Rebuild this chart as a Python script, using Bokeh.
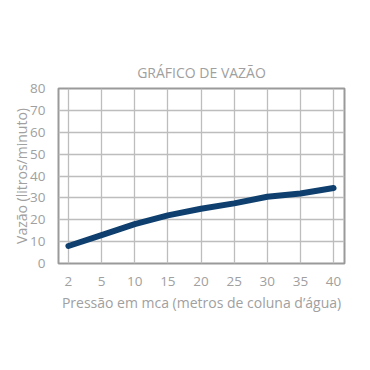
from bokeh.plotting import figure
from bokeh.models import FixedTicker, Range1d
from bokeh.embed import file_html
from bokeh.resources import INLINE

pressure_labels = ["2", "5", "10", "15", "20", "25", "30", "35", "40"]
flow_values = [8, 13, 18, 22, 25, 27.5, 30.5, 32, 34.5]
y_ticks = [0, 10, 20, 30, 40, 50, 60, 70, 80]

xs = list(range(len(pressure_labels)))

TEXT = "#a0a0a0"
FONT = "Open Sans"

p = figure(width=370, height=370, output_backend="svg", toolbar_location=None,
           x_range=Range1d(-0.3, len(pressure_labels) - 1 + 0.33),
           y_range=Range1d(0, 80),
           min_border_left=58, min_border_right=26, min_border_top=88, min_border_bottom=107)

p.title.text = "GRÁFICO DE VAZÃO"
p.title.align = "center"
p.title.text_font = FONT
p.title.text_font_style = "normal"
p.title.text_font_size = "14px"
p.title.text_color = TEXT
p.title.offset = 4
p.title.standoff = 14

p.line(xs, flow_values, line_color="#0e3f6e", line_width=6, line_cap="round", line_join="round")

p.outline_line_color = "#9a9a9a"
p.outline_line_width = 2
p.background_fill_color = "white"
p.border_fill_color = "white"

p.xaxis.ticker = FixedTicker(ticks=xs)
p.xaxis.major_label_overrides = {i: lab for i, lab in zip(xs, pressure_labels)}
p.yaxis.ticker = FixedTicker(ticks=y_ticks)

for ax in (p.xaxis, p.yaxis):
    ax.axis_line_color = None
    ax.major_tick_line_color = None
    ax.minor_tick_line_color = None
    ax.major_label_text_font = FONT
    ax.major_label_text_font_size = "13.5px"
    ax.major_label_text_color = TEXT
    ax.axis_label_text_font = FONT
    ax.axis_label_text_font_size = "14px"
    ax.axis_label_text_font_style = "normal"
    ax.axis_label_text_color = TEXT

p.xaxis.axis_label = "Pressão em mca (metros de coluna d’água)"
p.yaxis.axis_label = "Vazão (litros/minuto)"
p.xaxis.major_label_standoff = 7
p.yaxis.major_label_standoff = 7
p.yaxis.axis_label_standoff = -4
p.xaxis.axis_label_standoff = 4

p.xgrid.ticker = FixedTicker(ticks=xs)
p.ygrid.ticker = FixedTicker(ticks=y_ticks)
p.grid.grid_line_color = "#bdbdbd"
p.grid.grid_line_width = 1.3

open("out.html", "w").write(file_html(p, INLINE))
